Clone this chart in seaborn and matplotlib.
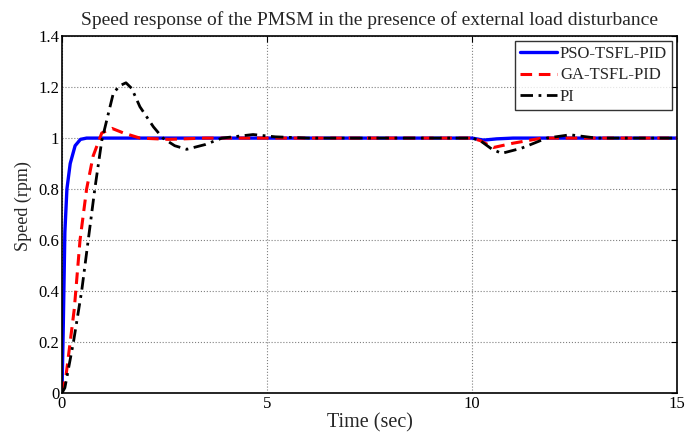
import pandas as pd
import numpy as np
import matplotlib
matplotlib.use('Agg')
import matplotlib.pyplot as plt
import matplotlib.ticker as mticker
import seaborn as sns

# Values
pso_t = [0, 0.03, 0.07, 0.12, 0.2, 0.32, 0.45, 0.6, 10.0, 10.28, 10.6, 11.0, 15]
pso_v = [0, 0.25, 0.63, 0.8, 0.9, 0.97, 0.995, 1.0, 1.0, 0.992, 0.997, 1.0, 1.0]

ga_t = [0, 0.1, 0.2, 0.3, 0.44, 0.6, 0.76, 0.97, 1.22, 1.5, 1.9, 2.6, 3.5,
        10.0, 10.2, 10.52, 11.0, 11.7, 15]
ga_v = [0, 0.07, 0.2, 0.33, 0.6, 0.8, 0.93, 1.02, 1.038, 1.02, 1.0, 0.995, 1.0,
        1.0, 0.99, 0.963, 0.98, 1.0, 1.0]

pi_t = [0, 0.07, 0.28, 0.48, 0.64, 0.8, 0.97, 1.25, 1.4, 1.56, 1.7, 1.9, 2.23, 2.46,
        2.75, 3.04, 3.5, 3.9, 4.66, 5.2, 6, 10, 10.2, 10.48, 10.72, 11.2, 11.82,
        12.39, 13.04, 15]
pi_v = [0, 0.02, 0.2, 0.4, 0.6, 0.8, 0.99, 1.175, 1.205, 1.217, 1.195, 1.123, 1.044,
        1.0, 0.97, 0.956, 0.975, 1.0, 1.014, 1.005, 1.0, 1.0, 0.99, 0.957, 0.94,
        0.96, 1.0, 1.013, 1.0, 1.0]

labels = ['PSO-TSFL-PID', 'GA-TSFL-PID', 'PI']

sns.set_style('white')
plt.rcParams['font.family'] = ['Liberation Serif', 'DejaVu Serif']

fig = plt.figure(figsize=(6.85, 4.41), dpi=100)
ax = fig.add_axes([0.0905, 0.109, 0.898, 0.809])

sns.lineplot(x=pso_t, y=pso_v, ax=ax, color='#0000ff', linewidth=2.4, label=labels[0])
sns.lineplot(x=ga_t, y=ga_v, ax=ax, color='#ff0000', linewidth=2.2,
             linestyle=(0, (3.8, 2.2)), label=labels[1])
sns.lineplot(x=pi_t, y=pi_v, ax=ax, color='black', linewidth=2.0,
             linestyle=(0, (4.5, 2, 1, 2)), label=labels[2])

ax.set_xlim(0, 15)
ax.set_ylim(0, 1.4)
ax.set_xticks([0, 5, 10, 15])
ax.set_yticks(np.arange(0, 1.41, 0.2))
ax.yaxis.set_major_formatter(mticker.FormatStrFormatter('%g'))
ax.xaxis.set_major_formatter(mticker.FormatStrFormatter('%g'))
ax.grid(True, color='#808080', linestyle=':', linewidth=0.8)
ax.tick_params(direction='in', top=True, right=True, labelsize=12, length=4,
               width=0.8, colors='black', pad=2)
for s in ax.spines.values():
    s.set_color('black')
    s.set_linewidth(1.2)

ax.set_title('Speed response of the PMSM in the presence of external load disturbance',
             fontsize=14, pad=8)
ax.set_xlabel('Time (sec)', fontsize=14.5, labelpad=1)
ax.set_ylabel('Speed (rpm)', fontsize=13)
ax.yaxis.set_label_coords(-0.049, 0.524)

leg = ax.legend(loc='upper right', fontsize=12, frameon=True, fancybox=False,
                edgecolor='black', handlelength=2.2, handletextpad=0.2,
                borderpad=0.3, labelspacing=0.32, borderaxespad=0.3)
leg.get_frame().set_linewidth(1.0)

fig.savefig('out.png', dpi=100)
